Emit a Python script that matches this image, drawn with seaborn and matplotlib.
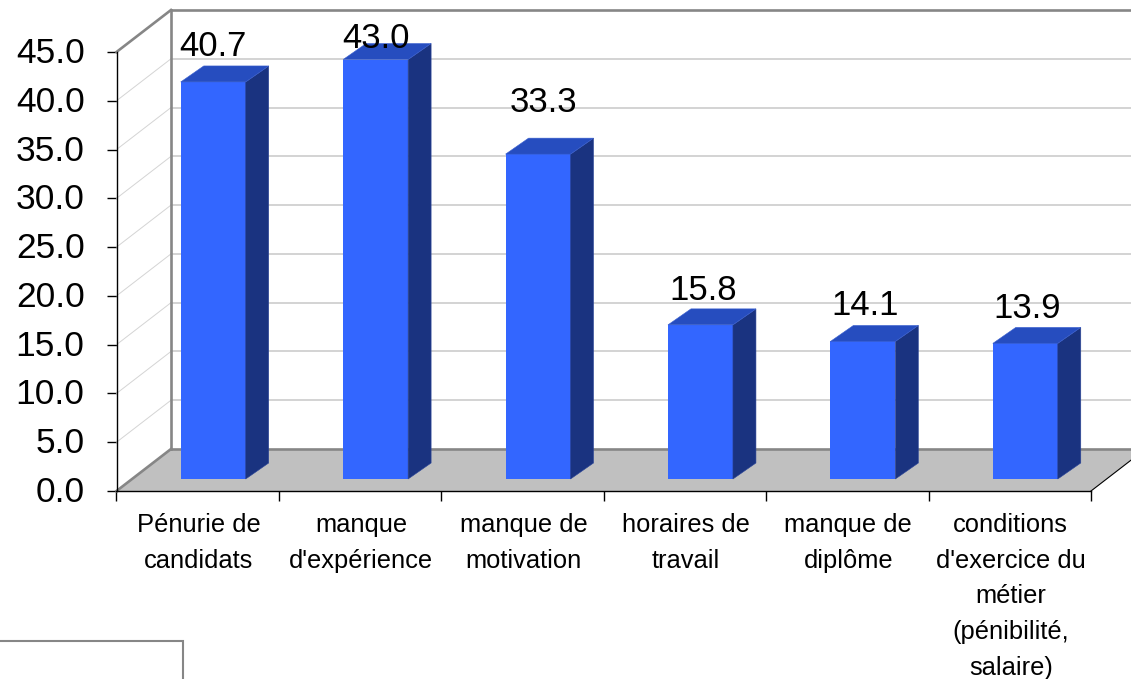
import numpy as np
import matplotlib
matplotlib.use('Agg')
import matplotlib.pyplot as plt
from matplotlib.patches import Polygon, Rectangle
from matplotlib.transforms import IdentityTransform, ScaledTranslation
import seaborn as sns

categories = ['Pénurie de\ncandidats', "manque\nd'expérience", 'manque de\nmotivation',
              'horaires de\ntravail', 'manque de\ndiplôme',
              "conditions\nd'exercice du\nmétier\n(pénibilité,\nsalaire)"]
values = [40.7, 43.0, 33.3, 15.8, 14.1, 13.9]
value_labels = ['40.7', '43.0', '33.3', '15.8', '14.1', '13.9']
yticks = [0, 5, 10, 15, 20, 25, 30, 35, 40, 45]
# labels were moved by hand in the original, offset from bar top in px
label_lift = [35, 21, 52, 34, 36, 35]
label_shift = [0, 0, 5, 3, 2, 2]

W, H = 1131, 679
sns.set_theme(style='white')
plt.rcParams['font.family'] = ['Liberation Sans', 'DejaVu Sans']

fig = plt.figure(figsize=(W / 100, H / 100), dpi=100, facecolor='white')

# front plane of the fake 3D box, holds the axes and ticks
left, right, base, top = 116.5, 1091, 491, 52
ax = fig.add_axes([left / W, (H - base) / H, (right - left) / W, (base - top) / H])
ax.set_xlim(-0.5, 5.5)
ax.set_ylim(0, 45)
ax.patch.set_visible(False)
for s in ['top', 'right']:
    ax.spines[s].set_visible(False)
for s in ['left', 'bottom']:
    ax.spines[s].set_color('black')
    ax.spines[s].set_linewidth(1.0)
ax.set_yticks(yticks)
ax.set_yticklabels(['%.1f' % t for t in yticks], fontsize=25.5)
ax.set_xticks(range(len(categories)))
ax.set_xticklabels(categories, fontsize=18.4, linespacing=1.62, va='top')
ax.set_xticks(np.arange(-0.5, 6), minor=True)
ax.tick_params(axis='x', which='major', length=0, pad=15.7, colors='black')
ax.tick_params(axis='x', which='minor', length=7, width=1.0, color='black', bottom=True)
ax.tick_params(axis='y', length=7, width=1.0, color='black', left=True, pad=16, labelcolor='black')
for lab in ax.get_xticklabels():
    lab.set_transform(lab.get_transform() + ScaledTranslation(1 / 100, 0, fig.dpi_scale_trans))
for lab in ax.get_yticklabels():
    lab.set_transform(lab.get_transform() + ScaledTranslation(0, 2 / 100, fig.dpi_scale_trans))

# bars stand part way into the floor
bar_dx, bar_dy = 15.5, 12
ax_bars = fig.add_axes([(left + bar_dx) / W, (H - base + bar_dy) / H,
                        (right - left) / W, (base - top) / H], zorder=3)
sns.barplot(x=list(range(len(values))), y=values, ax=ax_bars, color='#3366ff',
            saturation=1, width=0.4, edgecolor='none', linewidth=0)
ax_bars.set_xlim(-0.5, 5.5)
ax_bars.set_ylim(0, 45)
ax_bars.axis('off')

pix = IdentityTransform()
depth_x, depth_y = 54.5, 42
side_x, side_y = 23, 16


def front(x, y):
    return ax.transData.transform((x, y))


def draw_line(p, q, color, lw, z=1):
    ax.plot([p[0], q[0]], [p[1], q[1]], color=color, lw=lw, transform=pix,
            clip_on=False, zorder=z, solid_capstyle='projecting')


# floor
p0 = front(-0.5, 0)
p1 = front(5.5, 0)
d = np.array([depth_x, depth_y])
ax.add_patch(Polygon([p0, p1, p1 + d, p0 + d], closed=True, facecolor='#c0c0c0',
                     edgecolor='none', transform=pix, clip_on=False, zorder=0.5))

# gridlines, back wall and side wall
for t in yticks[1:-1]:
    a = front(-0.5, t)
    draw_line(a, a + d, '#d4d4d4', 0.7)
    draw_line(a + d, (W, a[1] + depth_y), '#c8c8c8', 1.1)

wall_b = p0 + d
wall_t = front(-0.5, 45) + d
draw_line(wall_b, wall_t, '#868686', 1.9, 2)
draw_line(wall_t, (W, wall_t[1]), '#868686', 1.9, 2)
draw_line(wall_b, (W, wall_b[1]), '#868686', 1.9, 2)
draw_line(p0, wall_b, '#868686', 1.9, 2)
draw_line(front(-0.5, 45), wall_t, '#868686', 1.9, 2)
draw_line(p1, p1 + d, 'black', 0.8, 2)

# side and top faces of the bars
for bar, label, lift, shift in zip(ax_bars.patches, value_labels, label_lift, label_shift):
    x0, x1 = bar.get_x(), bar.get_x() + bar.get_width()
    y1 = bar.get_height()
    a = ax_bars.transData.transform((x0, 0))
    b = ax_bars.transData.transform((x1, y1))
    ax_bars.add_patch(Polygon([(b[0], a[1]), (b[0] + side_x, a[1] + side_y),
                               (b[0] + side_x, b[1] + side_y), (b[0], b[1])],
                              closed=True, facecolor='#1a3380', edgecolor='#2a4498', lw=0.4,
                              transform=pix, clip_on=False))
    ax_bars.add_patch(Polygon([(a[0], b[1]), (b[0], b[1]),
                               (b[0] + side_x, b[1] + side_y), (a[0] + side_x, b[1] + side_y)],
                              closed=True, facecolor='#264dbf', edgecolor='#3a60d0', lw=0.4,
                              transform=pix, clip_on=False))
    ax_bars.text((a[0] + b[0]) / 2 + shift, b[1] + lift, label, transform=pix, fontsize=25,
                 color='black', ha='center', va='center', zorder=10, clip_on=False)

# leftover legend frame, cut by the edge of the picture
fig.add_artist(Rectangle((-5 / W, -5 / H), 188 / W, (H - 641 + 5) / H, transform=fig.transFigure,
                         facecolor='none', edgecolor='#868686', lw=1.5))

fig.savefig('out.png', dpi=100, facecolor='white')
